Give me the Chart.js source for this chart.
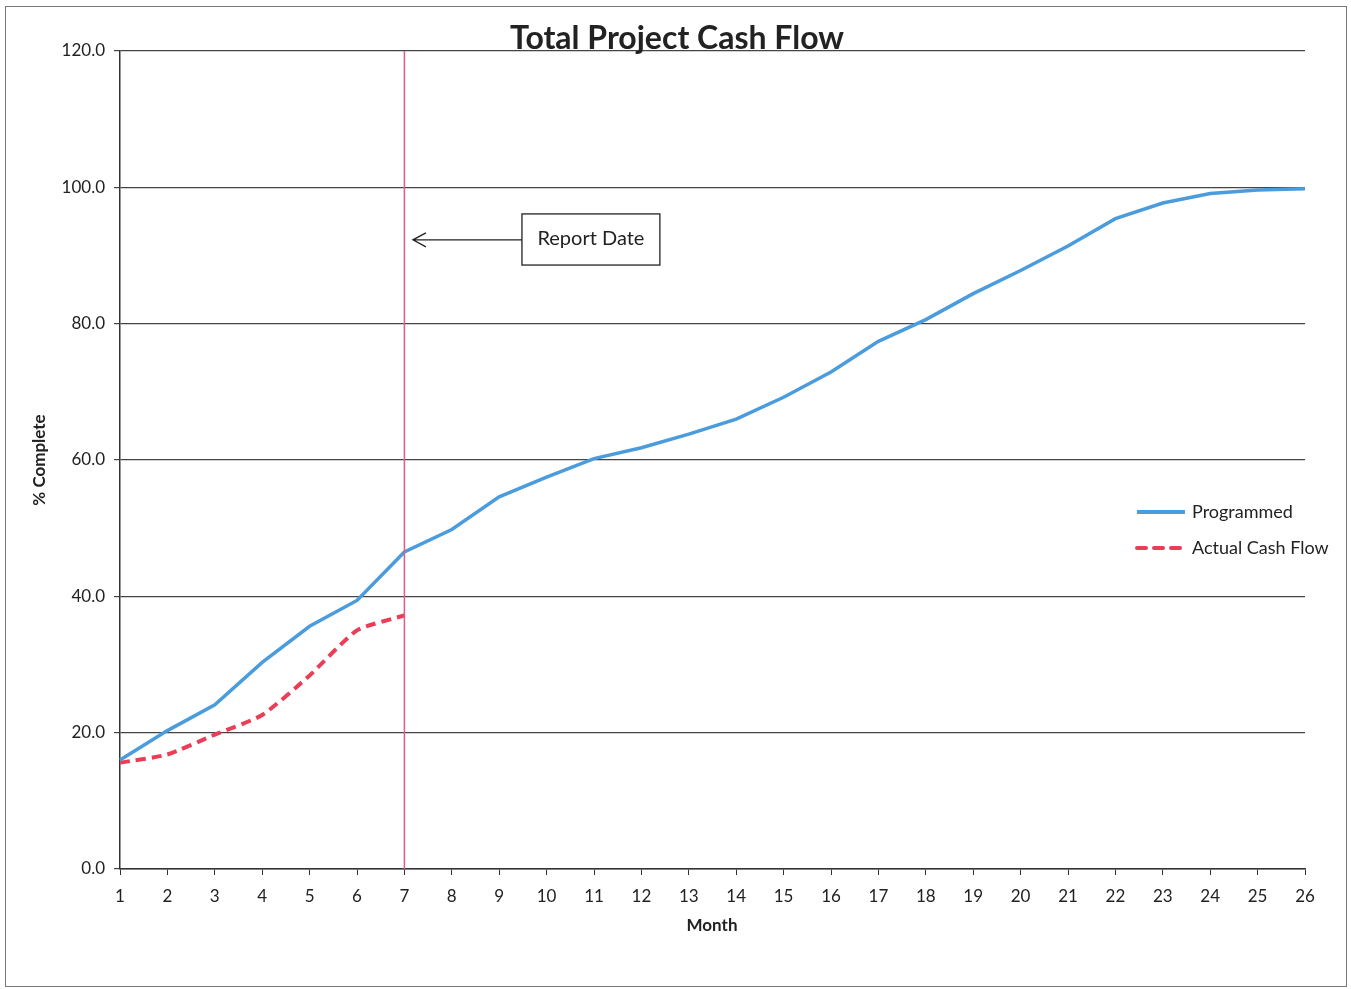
<!DOCTYPE html>
<html>
<head>
<meta charset="utf-8">
<title>Total Project Cash Flow</title>
<script src="https://cdn.jsdelivr.net/npm/chart.js@4/dist/chart.umd.min.js"></script>
<style>
    body { margin: 0; background: #fff; }
    #wrap { width: 1351px; height: 989px; position: relative; }
</style>
</head>
<body>
<div id="wrap"><canvas id="cashflow-chart" width="1351" height="989"></canvas></div>
<script>
const months = ['1','2','3','4','5','6','7','8','9','10','11','12','13','14','15','16','17','18','19','20','21','22','23','24','25','26'];
const programmed = [16.0, 20.3, 24.1, 30.3, 35.6, 39.4, 46.5, 49.8, 54.6, 57.5, 60.2, 61.8, 63.8, 66.0, 69.2, 72.9, 77.4, 80.6, 84.4, 87.8, 91.4, 95.4, 97.7, 99.1, 99.6, 99.8];
const actualCashFlow = [15.6, 16.8, 19.7, 22.6, 28.4, 35.0, 37.2];
const yTicks = [0, 20, 40, 60, 80, 100, 120];
const reportMonth = '7';

const FONT = 'Lato, "Open Sans", sans-serif';
const BLUE = '#4b9cdc';
const RED = '#ea3d56';

// frame, titles, report date marker and legend
const extras = {
    id: 'extras',
    beforeDraw(chart) {
        const ctx = chart.ctx;
        ctx.save();
        ctx.fillStyle = '#fff';
        ctx.fillRect(0, 0, chart.width, chart.height);
        ctx.strokeStyle = '#777';
        ctx.lineWidth = 1;
        ctx.strokeRect(5.5, 6.5, 1341, 980);
        ctx.restore();
    },
    afterDatasetsDraw(chart) {
        const ctx = chart.ctx;
        const x = chart.scales.x;
        const y = chart.scales.y;
        ctx.save();

        // report date line
        const rx = x.getPixelForValue(months.indexOf(reportMonth));
        ctx.strokeStyle = '#e45a8a';
        ctx.lineWidth = 1.5;
        ctx.beginPath();
        ctx.moveTo(rx, y.getPixelForValue(120));
        ctx.lineTo(rx, y.getPixelForValue(0));
        ctx.stroke();

        // report date box and arrow
        const bx1 = x.getPixelForValue(8.48), bx2 = x.getPixelForValue(11.39);
        const by1 = y.getPixelForValue(96.1), by2 = y.getPixelForValue(88.6);
        const ay = y.getPixelForValue(92.3);
        const tip = x.getPixelForValue(6.18);
        ctx.strokeStyle = '#222';
        ctx.lineWidth = 1.3;
        ctx.strokeRect(bx1, by1, bx2 - bx1, by2 - by1);
        ctx.beginPath();
        ctx.moveTo(bx1, ay);
        ctx.lineTo(tip, ay);
        ctx.moveTo(tip + 13, ay - 7);
        ctx.lineTo(tip, ay);
        ctx.lineTo(tip + 13, ay + 7);
        ctx.stroke();
        ctx.fillStyle = '#222';
        ctx.font = '20px ' + FONT;
        ctx.textAlign = 'center';
        ctx.textBaseline = 'middle';
        ctx.fillText('Report Date', (bx1 + bx2) / 2, (by1 + by2) / 2 - 1);

        // legend
        ctx.lineWidth = 4;
        ctx.strokeStyle = BLUE;
        ctx.beginPath();
        ctx.moveTo(1137, 512);
        ctx.lineTo(1185, 512);
        ctx.stroke();
        ctx.strokeStyle = RED;
        ctx.lineCap = 'round';
        ctx.setLineDash([9, 8]);
        ctx.beginPath();
        ctx.moveTo(1137, 548);
        ctx.lineTo(1183, 548);
        ctx.stroke();
        ctx.setLineDash([]);
        ctx.lineCap = 'butt';
        ctx.fillStyle = '#222';
        ctx.font = '18px ' + FONT;
        ctx.textAlign = 'left';
        ctx.fillText('Programmed', 1192, 512);
        ctx.fillText('Actual Cash Flow', 1192, 548);

        // title
        ctx.font = 'bold 32px ' + FONT;
        ctx.textAlign = 'center';
        ctx.textBaseline = 'alphabetic';
        const tw = ctx.measureText('Total Project Cash Flow').width;
        ctx.fillStyle = '#fff';
        ctx.fillRect(677 - tw / 2 - 2, 20, tw + 4, 30);
        ctx.fillStyle = '#222';
        ctx.fillText('Total Project Cash Flow', 677, 49);

        // axis titles
        ctx.font = 'bold 17px ' + FONT;
        ctx.textBaseline = 'middle';
        ctx.fillText('Month', 712, 926);
        ctx.translate(40, 460);
        ctx.rotate(-Math.PI / 2);
        ctx.fillText('% Complete', 0, 0);
        ctx.restore();
    }
};

new Chart(document.getElementById('cashflow-chart').getContext('2d'), {
    type: 'line',
    data: {
        labels: months,
        datasets: [{
            label: 'Programmed',
            data: programmed,
            borderColor: BLUE,
            borderWidth: 3.5,
            pointRadius: 0,
            tension: 0,
            fill: false
        }, {
            label: 'Actual Cash Flow',
            data: actualCashFlow,
            borderColor: RED,
            borderWidth: 4,
            borderDash: [10, 6],
            pointRadius: 0,
            tension: 0.2,
            fill: false
        }]
    },
    options: {
        responsive: false,
        animation: false,
        layout: { padding: { left: 0, right: 46, top: 51, bottom: 0 } },
        plugins: {
            legend: { display: false },
            title: { display: false },
            tooltip: { enabled: false }
        },
        scales: {
            x: {
                offset: false,
                afterFit: (scale) => { scale.height = 120; },
                grid: {
                    drawOnChartArea: false,
                    drawTicks: true,
                    tickLength: 6,
                    color: '#333'
                },
                border: { color: '#333', width: 1.5 },
                ticks: {
                    color: '#222',
                    padding: 11,
                    maxRotation: 0,
                    autoSkip: false,
                    font: { family: FONT, size: 17 }
                }
            },
            y: {
                min: 0,
                max: 120,
                afterFit: (scale) => { scale.width = 120; },
                afterBuildTicks: (scale) => { scale.ticks = yTicks.map(v => ({ value: v })); },
                grid: {
                    color: '#444',
                    lineWidth: 1.2,
                    tickLength: 6
                },
                border: { color: '#333', width: 1.5 },
                ticks: {
                    color: '#222',
                    padding: 9,
                    font: { family: FONT, size: 17 },
                    callback: (v) => v.toFixed(1)
                }
            }
        }
    },
    plugins: [extras]
});
</script>
</body>
</html>
